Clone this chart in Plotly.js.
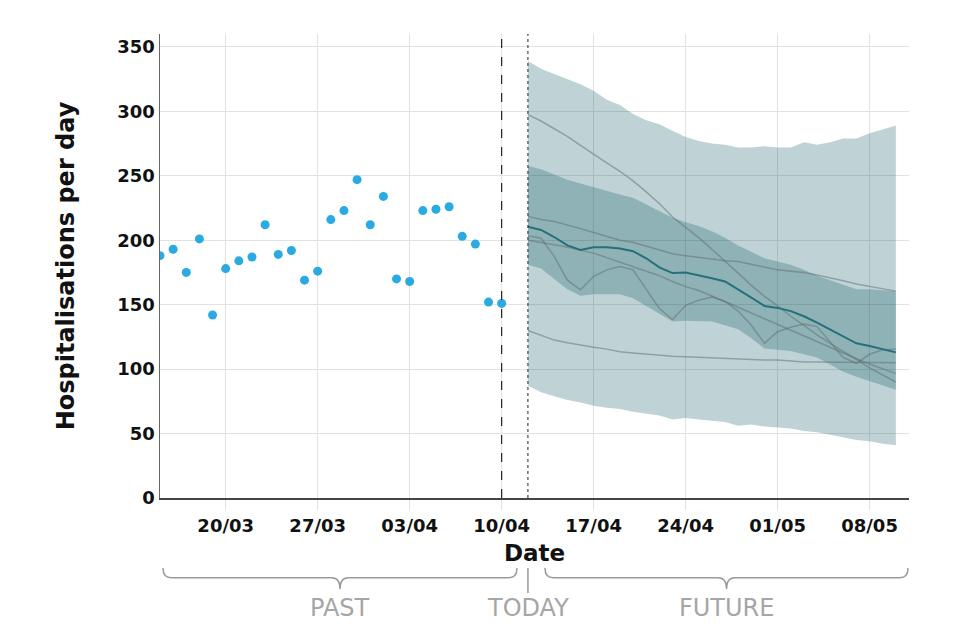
<!DOCTYPE html>
<html>
<head>
<meta charset="utf-8">
<script src="https://cdn.plot.ly/plotly-3.0.1.min.js"></script>
<style>html,body{margin:0;padding:0;background:#fff;}#chart{width:960px;height:640px;}</style>
</head>
<body>
<div id="chart"></div>
<script>
// ---------- data ----------
const pastStart = '2020-03-15';
const observed = [188,193,175,201,142,178,184,187,212,189,192,169,176,216,223,247,212,234,170,168,223,224,226,203,197,152,151];

const forecastStart = '2020-04-12';
const outerUpper = [339,333,329,325,321,316,309,305,298,293,290,285,280,277,275,274,272,272,273,272,272,276,274,276,279,279,283,286,289];
const outerLower = [87,82,79,76,74,71.5,70,69,67,65.5,64,61,62,61,60,59,56,57,55.5,55,54,52,51,49,47,45,44,42,41];
const innerUpper = [257.5,255,251,247,244,241,238.5,235.5,233,228,222.5,217.5,214,211,207,202,196,191,186,183.5,181,177,172.5,169,165.5,162,162,161,160.5];
const innerLower = [181,178,170,162,157,158,158,158,155,149,143,137,137.5,137.5,137,134,131,124,116,115,114,111.5,109,103.5,98,94,90.5,87,84];
const median = [210.5,208,202.5,196,192.5,194.5,194.5,193.5,191.5,186,179,174.5,175,173,170.5,168,162,155.5,149,147.5,145,141,136,130.5,125,120,118,115.5,113];
const sampleA = [297.5,292.5,286.5,280.5,273.5,266.5,260,253.5,246,237.5,228.5,218,210,202,193,184,174.5,165,156.5,149,141,134,126.5,120,114,107.5,101,95.5,90];
const sampleB = [203.5,201.5,187.5,169,161.5,172,177,179.5,177,162,147,138.5,149.5,153.5,156,152.5,145,134,120,129,132.5,135,133,121,109,104.5,111.5,115,115.5];
const sampleC = [218.5,216,214.5,212,209,206,203,200,198.5,195.5,192,189.5,188,186.5,185,184,183.5,181.5,179,177,176,175,173,171,168.5,166,164,162.5,160.5];
const sampleD = [200,198.5,196.5,194.5,192.5,190,186.5,183,180,176.5,172.5,168,164,161,157,152.5,148,143.5,139,134.5,130,126,121.5,117,112.5,108,104,100,96.5];
const sampleE = [130,126,122.5,120.5,118.5,117,115.5,113.5,112.5,111.5,110.5,110,109.5,109,108.5,108,107.5,107.5,107,107,106,105.5,105.5,105.5,105,105,105,105,105];

const lastObservedDate = '2020-04-10';
const xRange = ['2020-03-15', '2020-05-11'];
const tickStart = '2020-03-20';
const yTicks = [0,50,100,150,200,250,300,350];

// ---------- helpers ----------
function dayList(start, n) {
  const out = [];
  const d0 = new Date(start + 'T00:00:00Z');
  for (let i = 0; i < n; i++) {
    const d = new Date(d0.getTime() + i * 86400000);
    out.push(d.toISOString().slice(0, 10));
  }
  return out;
}
const pastDates = dayList(pastStart, observed.length);
const fDates = dayList(forecastStart, median.length);

const bandColor = 'rgba(0,80,90,0.25)';
const greyLine = {color: 'rgba(95,110,112,0.5)', width: 1.5};
const FONT = 'DejaVu Sans, sans-serif';

const traces = [
  {x: fDates, y: outerLower, mode: 'lines', line: {width: 0}, hoverinfo: 'skip'},
  {x: fDates, y: outerUpper, mode: 'lines', line: {width: 0}, fill: 'tonexty', fillcolor: bandColor, hoverinfo: 'skip'},
  {x: fDates, y: innerLower, mode: 'lines', line: {width: 0}, hoverinfo: 'skip'},
  {x: fDates, y: innerUpper, mode: 'lines', line: {width: 0}, fill: 'tonexty', fillcolor: bandColor, hoverinfo: 'skip'},
  {x: fDates, y: sampleA, mode: 'lines', line: greyLine},
  {x: fDates, y: sampleB, mode: 'lines', line: greyLine},
  {x: fDates, y: sampleC, mode: 'lines', line: greyLine},
  {x: fDates, y: sampleD, mode: 'lines', line: greyLine},
  {x: fDates, y: sampleE, mode: 'lines', line: greyLine},
  {x: fDates, y: median, mode: 'lines', line: {color: '#25717b', width: 2}},
  {x: pastDates, y: observed, mode: 'markers', marker: {color: '#29abe2', size: 9}}
];

// paper fraction for a date on the x axis (for decorations below the axis)
const t0 = Date.parse(xRange[0]), t1 = Date.parse(xRange[1]);
function frac(d) { return (Date.parse(d) - t0) / (t1 - t0); }

function brace(x0, x1, yTop, yMid, yTip, r) {
  const tip = (x0 + x1) / 2;
  return `M ${x0},${yTop} Q ${x0},${yMid} ${x0 + r},${yMid} L ${tip - r},${yMid} Q ${tip},${yMid} ${tip},${yTip} Q ${tip},${yMid} ${tip + r},${yMid} L ${x1 - r},${yMid} Q ${x1},${yMid} ${x1},${yTop}`;
}
const yTop = -0.151, yMid = -0.172, yTip = -0.196, rr = 0.011;
const todayX = frac(forecastStart);
const braceColor = '#9a9a9a';

const layout = {
  width: 960, height: 640,
  margin: {l: 160, r: 51, t: 34, b: 142},
  paper_bgcolor: '#fff', plot_bgcolor: '#fff',
  showlegend: false,
  hovermode: false,
  font: {family: FONT, color: '#111'},
  xaxis: {
    type: 'date', range: xRange,
    tick0: tickStart, dtick: 7 * 86400000, tickformat: '%d/%m',
    showgrid: true, gridcolor: '#e2e2e2', gridwidth: 1,
    ticks: 'outside', ticklen: 10, tickcolor: '#e2e2e2', tickwidth: 1,
    showline: true, linecolor: '#444', linewidth: 2,
    zeroline: false,
    tickfont: {family: FONT, size: 18, color: '#111', weight: 'bold'},
    title: {text: 'Date', standoff: 10, font: {family: FONT, size: 23, color: '#111', weight: 'bold'}}
  },
  yaxis: {
    range: [0, 360], tickvals: yTicks, ticktext: yTicks.map(String),
    showgrid: true, gridcolor: '#e2e2e2', gridwidth: 1,
    ticks: '', showline: true, linecolor: '#666', linewidth: 1.5,
    zeroline: false,
    tickfont: {family: FONT, size: 18, color: '#111', weight: 'bold'},
    title: {text: 'Hospitalisations per day', standoff: 36, font: {family: FONT, size: 24, color: '#111', weight: 'bold'}}
  },
  shapes: [
    {type: 'line', xref: 'x', yref: 'paper', x0: lastObservedDate, x1: lastObservedDate, y0: 0, y1: 1,
     line: {color: '#222', width: 1.2, dash: 'dash'}},
    {type: 'line', xref: 'x', yref: 'paper', x0: forecastStart, x1: forecastStart, y0: 0, y1: 1,
     line: {color: '#222', width: 1, dash: 'dot'}},
    {type: 'path', xref: 'paper', yref: 'paper', path: brace(0.004, 0.4766, yTop, yMid, yTip, rr),
     line: {color: braceColor, width: 1.5}},
    {type: 'path', xref: 'paper', yref: 'paper', path: brace(0.514, 0.9987, yTop, yMid, yTip, rr),
     line: {color: braceColor, width: 1.5}},
    {type: 'line', xref: 'paper', yref: 'paper', x0: todayX, x1: todayX, y0: yTop, y1: -0.205,
     line: {color: braceColor, width: 1.5}}
  ],
  annotations: [
    {xref: 'paper', yref: 'paper', x: 0.2403, y: -0.237, text: 'PAST', showarrow: false,
     xanchor: 'center', yanchor: 'middle', font: {family: FONT, size: 24, color: '#a6a6a6'}},
    {xref: 'paper', yref: 'paper', x: todayX, y: -0.237, text: 'TODAY', showarrow: false,
     xanchor: 'center', yanchor: 'middle', font: {family: FONT, size: 24, color: '#a6a6a6'}},
    {xref: 'paper', yref: 'paper', x: 0.7563, y: -0.237, text: 'FUTURE', showarrow: false,
     xanchor: 'center', yanchor: 'middle', font: {family: FONT, size: 24, color: '#a6a6a6'}}
  ]
};

Plotly.newPlot('chart', traces, layout, {displayModeBar: false, staticPlot: true});
</script>
</body>
</html>
